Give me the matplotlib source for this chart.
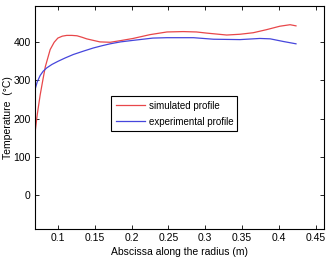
import matplotlib
matplotlib.use('Agg')
import matplotlib.pyplot as plt

# simulated profile
x_sim = [0.069, 0.072, 0.076, 0.080, 0.083, 0.0896, 0.095, 0.100, 0.106, 0.112, 0.119, 0.126,
         0.133, 0.139, 0.148, 0.157, 0.171, 0.184, 0.202, 0.225, 0.248, 0.270, 0.288, 0.302,
         0.329, 0.347, 0.365, 0.383, 0.401, 0.415, 0.423]
y_sim = [162, 210, 262, 305, 336, 381, 400, 411, 416, 418, 418, 417,
         413, 409, 405, 401, 400, 404, 410, 420, 427, 428, 427, 424,
         419, 421, 425, 433, 442, 446, 443]

# experimental profile
x_exp = [0.069, 0.072, 0.076, 0.080, 0.085, 0.092, 0.100, 0.110, 0.121, 0.135, 0.148, 0.160,
         0.171, 0.185, 0.202, 0.229, 0.248, 0.284, 0.311, 0.347, 0.374, 0.388, 0.406, 0.423]
y_exp = [276, 296, 313, 324, 333, 342, 350, 359, 368, 377, 385, 391,
         396, 401, 405, 411, 412, 412, 408, 407, 410, 409, 402, 396]

labels = ['simulated profile', 'experimental profile']

plt.rcParams['font.family'] = ['Liberation Sans', 'DejaVu Sans']

fig = plt.figure(figsize=(3.29, 2.64), dpi=100)
ax = fig.add_axes([35/329, 1 - 229/264, 289/329, 223/264])

ax.plot(x_sim, y_sim, color='#e8474a', lw=0.9, label=labels[0])
ax.plot(x_exp, y_exp, color='#4646dc', lw=0.9, label=labels[1])

ax.set_xlim(0.069, 0.461)
ax.set_ylim(-89, 495)
ax.set_xticks([0.1, 0.15, 0.2, 0.25, 0.3, 0.35, 0.4, 0.45])
ax.set_xticklabels(['0.1', '0.15', '0.2', '0.25', '0.3', '0.35', '0.4', '0.45'])
ax.set_yticks([0, 100, 200, 300, 400])
ax.tick_params(direction='in', top=True, right=True, labelsize=7.5, length=3, width=0.6, pad=3)
for s in ax.spines.values():
    s.set_linewidth(0.8)

ax.set_xlabel('Abscissa along the radius (m)', fontsize=7.5, labelpad=3)
ax.set_ylabel('Temperature  (°C)', fontsize=7.5)
ax.yaxis.set_label_coords(-0.075, 0.5)

leg = ax.legend(loc='center', bbox_to_anchor=(0.263, 0.43, 0.436, 0.175), mode='expand',
                fontsize=7, fancybox=False, edgecolor='black', framealpha=1,
                handlelength=3.0, handletextpad=0.4, borderpad=0.5, labelspacing=0.6,
                borderaxespad=0)
leg.get_frame().set_linewidth(0.8)

fig.savefig('out.png', dpi=100)
